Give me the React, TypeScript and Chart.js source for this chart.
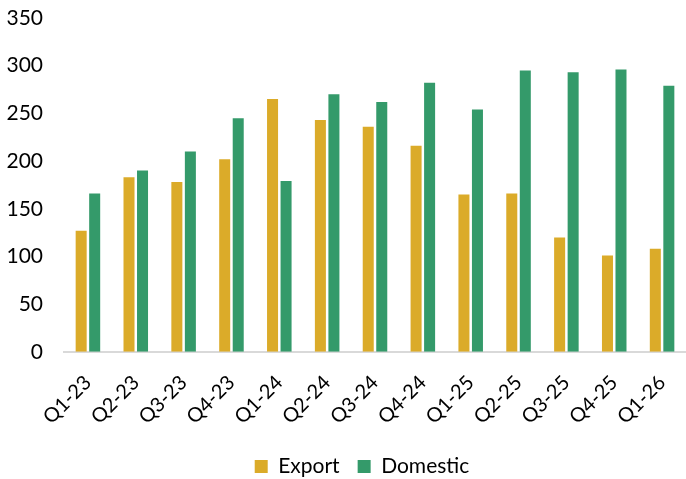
import React, { useEffect, useRef } from "react";
import { Chart, registerables } from "chart.js";

Chart.register(...registerables);

const categories = ["Q1-23", "Q2-23", "Q3-23", "Q4-23", "Q1-24", "Q2-24", "Q3-24", "Q4-24", "Q1-25", "Q2-25", "Q3-25", "Q4-25", "Q1-26"];
const exportValues = [127, 183, 178, 202, 265, 243, 236, 216, 165, 166, 120, 101, 108];
const domesticValues = [166, 190, 210, 245, 179, 270, 262, 282, 254, 295, 293, 296, 279];
const yTicks = [0, 50, 100, 150, 200, 250, 300, 350];

const FONT = "Lato, 'Open Sans', sans-serif";

const legendShift = {
  id: "legendShift",
  afterLayout(chart: any) {
    const lg = chart.legend;
    if (lg) {
      lg.left += 19;
      lg.right += 19;
    }
  },
};

export default function App() {
  const ref = useRef<HTMLCanvasElement | null>(null);
  useEffect(() => {
    document.body.style.margin = "0";
    const ctx = ref.current!;
    const chart = new Chart(ctx, {
      type: "bar",
      data: {
        labels: categories,
        datasets: [
          { label: "Export", data: exportValues, backgroundColor: "#DBAB29", barPercentage: 0.815, categoryPercentage: 0.565 },
          { label: "Domestic", data: domesticValues, backgroundColor: "#349A6A", barPercentage: 0.815, categoryPercentage: 0.565 },
        ],
      },
      plugins: [legendShift],
      options: {
        animation: false,
        responsive: false,
        maintainAspectRatio: false,
        layout: { padding: { top: 18, right: 0, left: 0, bottom: -8 } },
        plugins: {
          tooltip: { enabled: false },
          legend: {
            position: "bottom",
            labels: {
              boxWidth: 13,
              boxHeight: 13,
              padding: 18,
              color: "#000",
              font: { family: FONT, size: 21 },
            },
          },
        },
        scales: {
          x: {
            grid: { display: false, drawTicks: false },
            border: { display: true, color: "#D9D9D9", width: 2 },
            afterFit: (axis: any) => {
              axis.height = axis.height - 10;
              axis.paddingLeft = 0;
              axis.paddingRight = 0;
            },
            ticks: {
              color: "#000",
              font: { family: FONT, size: 20 },
              maxRotation: 45,
              minRotation: 45,
              padding: 19,
              autoSkip: false,
            },
          },
          y: {
            min: 0,
            max: 350,
            grid: { display: false, drawTicks: false },
            border: { display: false },
            afterBuildTicks: (axis: any) => {
              axis.ticks = yTicks.map((v) => ({ value: v }));
            },
            afterFit: (axis: any) => {
              axis.width = 64;
              axis.paddingTop = 0;
              axis.paddingBottom = 0;
            },
            ticks: {
              color: "#000",
              font: { family: FONT, size: 21 },
              padding: 21,
            },
          },
        },
      },
    });
    return () => chart.destroy();
  }, []);
  return (
    <div style={{ width: 686, height: 479 }}>
      <canvas ref={ref} width={686} height={479} style={{ width: 686, height: 479, display: "block" }} />
    </div>
  );
}
